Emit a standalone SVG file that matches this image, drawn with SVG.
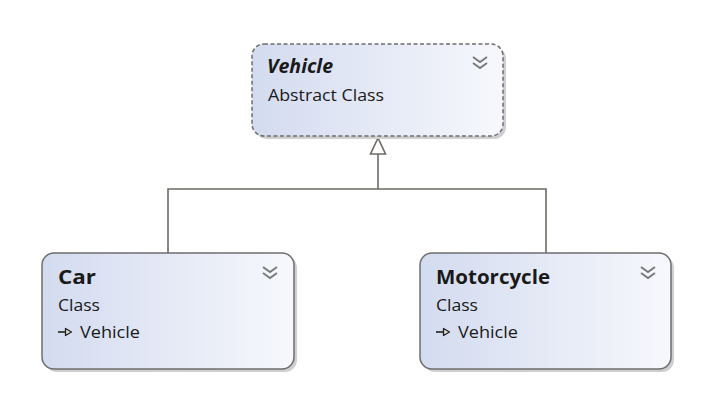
<svg xmlns="http://www.w3.org/2000/svg" width="728" height="417" viewBox="0 0 728 417">
<defs>
<linearGradient id="g" x1="0" y1="0" x2="1" y2="0">
<stop offset="0" stop-color="#d3dbef"/>
<stop offset="1" stop-color="#f7f8fd"/>
</linearGradient>
<g id="chev">
<path d="M0,0 L7,5 L14,0 M0,6 L7,11 L14,6" fill="none" stroke="#7a7a7a" stroke-width="2"/>
</g>
<g id="inh">
<path d="M0,0 H8" stroke="#222" stroke-width="1.6"/>
<polygon points="7.5,-3.5 13.5,0 7.5,3.5" fill="#dcdcdc" stroke="#222" stroke-width="1.3" stroke-linejoin="round"/>
</g>
</defs>
<style>
.box{fill:url(#g);stroke:#6e6e6e;stroke-width:1.5}
.dash{stroke-dasharray:4 2.5}
.shadow{fill:#cfcfcf}
text{font-family:"Open Sans","Noto Sans","Liberation Sans",sans-serif;fill:#1a1a1a}
.t{font-size:19.5px;font-weight:bold}
.s{font-size:16.5px}
.line{fill:none;stroke:#6e6b64;stroke-width:1.6}
</style>
<rect width="728" height="417" fill="#ffffff"/>
<g id="connectors">
<path class="line" d="M168,253 V189 H546 V253 M378,189 V154"/>
<polygon points="378,138 370.5,154 385.5,154" fill="#ffffff" stroke="#6e6b64" stroke-width="1.6"/>
</g>
<g id="vehicle">
<rect class="shadow" x="255" y="47" width="251" height="92" rx="12"/>
<rect class="box dash" x="252" y="44" width="251" height="92" rx="12"/>
<text class="t" x="267" y="73" font-style="italic" textLength="66" lengthAdjust="spacingAndGlyphs">Vehicle</text>
<text class="s" x="268" y="101" textLength="116" lengthAdjust="spacingAndGlyphs">Abstract Class</text>
<use href="#chev" x="473" y="57"/>
</g>
<g id="car">
<rect class="shadow" x="45" y="256" width="252" height="116" rx="12"/>
<rect class="box" x="42" y="253" width="252" height="116" rx="12"/>
<text class="t" x="58" y="284" textLength="38" lengthAdjust="spacingAndGlyphs">Car</text>
<text class="s" x="58" y="311" textLength="42" lengthAdjust="spacingAndGlyphs">Class</text>
<use href="#inh" x="58" y="332"/>
<text class="s" x="80" y="338" textLength="60" lengthAdjust="spacingAndGlyphs">Vehicle</text>
<use href="#chev" x="263" y="267"/>
</g>
<g id="motorcycle">
<rect class="shadow" x="423" y="256" width="251" height="116" rx="12"/>
<rect class="box" x="420" y="253" width="251" height="116" rx="12"/>
<text class="t" x="436" y="284" textLength="114" lengthAdjust="spacingAndGlyphs">Motorcycle</text>
<text class="s" x="436" y="311" textLength="42" lengthAdjust="spacingAndGlyphs">Class</text>
<use href="#inh" x="436" y="332"/>
<text class="s" x="458" y="338" textLength="60" lengthAdjust="spacingAndGlyphs">Vehicle</text>
<use href="#chev" x="641" y="267"/>
</g>
</svg>
